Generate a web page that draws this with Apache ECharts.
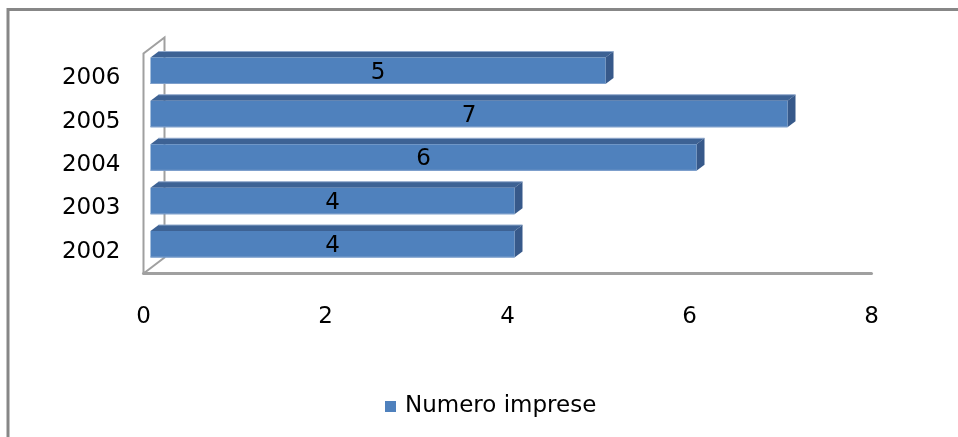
<!DOCTYPE html>
<html>
<head>
<meta charset="utf-8">
<script src="https://cdn.jsdelivr.net/npm/echarts@6/dist/echarts.min.js"></script>
<style>
  html, body { margin: 0; padding: 0; background: #fff; }
  #chart { width: 958px; height: 437px; }
</style>
</head>
<body>
<div id="chart"></div>
<script>
const years = ['2002', '2003', '2004', '2005', '2006']
const imprese = [4, 4, 6, 7, 5]
const xTicks = [0, 8, 2]  // min, max, interval
const seriesName = 'Numero imprese'

const font = 'DejaVu Sans'
const front = '#4F81BD'
const topColor = '#3D6294'
const sideColor = '#37598A'

// 3d look: bar face sits a bit right/up from the axis plane
const ox = 7, oy = -7.5, dx = 8, dy = 6

const chart = echarts.init(document.getElementById('chart'))

const renderBar = (params, api) => {
  const v = api.value(0)
  const cat = api.value(1)
  const p0 = api.coord([0, cat])
  const p1 = api.coord([v, cat])
  const band = api.size([0, 1])[1]
  const h = band * 0.61
  const x0 = p0[0] + ox
  const x1 = p1[0] + ox
  const yc = p0[1] + oy
  const yt = yc - h / 2
  const yb = yc + h / 2
  return {
    type: 'group',
    children: [
      {
        type: 'polygon',
        shape: { points: [[x0, yt], [x0 + dx, yt - dy], [x1 + dx, yt - dy], [x1, yt]] },
        style: { fill: topColor }
      },
      {
        type: 'rect',
        shape: { x: x0 + dx, y: yt - dy - 0.5, width: x1 - x0, height: 1 },
        style: { fill: '#90A9CC' }
      },
      {
        type: 'polygon',
        shape: { points: [[x1, yt], [x1 + dx, yt - dy], [x1 + dx, yb - dy], [x1, yb]] },
        style: { fill: sideColor }
      },
      {
        type: 'rect',
        shape: { x: x0, y: yt, width: x1 - x0, height: h },
        style: { fill: front }
      },
      {
        type: 'rect',
        shape: { x: x0, y: yb - 1, width: x1 - x0, height: 1 },
        style: { fill: '#7E9FCB' }
      },
      {
        type: 'text',
        style: {
          x: (x0 + x1) / 2,
          y: yc + 2,
          text: String(v),
          font: '23px "' + font + '"',
          fill: '#000',
          align: 'center',
          verticalAlign: 'middle'
        }
      }
    ]
  }
}

chart.setOption({
  animation: false,
  backgroundColor: '#fff',
  textStyle: { fontFamily: font },
  grid: { left: 143.5, right: 86.5, top: 56.5, bottom: 163.5, containLabel: false },
  legend: {
    data: [seriesName],
    bottom: 14,
    left: 380,
    icon: 'rect',
    itemWidth: 11,
    itemHeight: 11,
    itemGap: 4,
    textStyle: { fontSize: 23, color: '#000', fontFamily: font, padding: [0, 0, 0, 4] }
  },
  xAxis: {
    type: 'value',
    min: xTicks[0],
    max: xTicks[1],
    interval: xTicks[2],
    axisLine: { show: true, lineStyle: { color: '#A0A0A0', width: 3 } },
    axisTick: { show: false },
    splitLine: { show: false },
    axisLabel: { color: '#000', fontSize: 23, margin: 32 }
  },
  yAxis: {
    type: 'category',
    data: years,
    axisLine: { show: false },
    axisTick: { show: false },
    axisLabel: { color: '#000', fontSize: 23, margin: 23 }
  },
  series: [{
    name: seriesName,
    type: 'custom',
    itemStyle: { color: front },
    encode: { x: 0, y: 1 },
    data: imprese.map((v, i) => [v, i]),
    renderItem: renderBar,
    z: 3
  }]
})

// left wall + outer border, placed from the axes
const xLeft = chart.convertToPixel({ xAxisIndex: 0 }, 0)
const yFirst = chart.convertToPixel({ yAxisIndex: 0 }, 0)
const yLast = chart.convertToPixel({ yAxisIndex: 0 }, years.length - 1)
const band = (yFirst - yLast) / (years.length - 1)
const yBottom = yFirst + band / 2
const yTop = yLast - band / 2 - 3
const wx = 21, wy = 16
const wallStyle = { stroke: '#A0A0A0', lineWidth: 2 }

chart.setOption({
  graphic: [
    { type: 'rect', z: 0, shape: { x: 8, y: 9.5, width: 1200, height: 1200 },
      style: { fill: 'none', stroke: '#878787', lineWidth: 3 } },
    { type: 'polyline', z: 1,
      shape: { points: [[xLeft, yBottom], [xLeft, yTop], [xLeft + wx, yTop - wy], [xLeft + wx, yBottom - wy], [xLeft, yBottom]] },
      style: wallStyle }
  ]
})

window.addEventListener('resize', () => chart.resize())
</script>
</body>
</html>
